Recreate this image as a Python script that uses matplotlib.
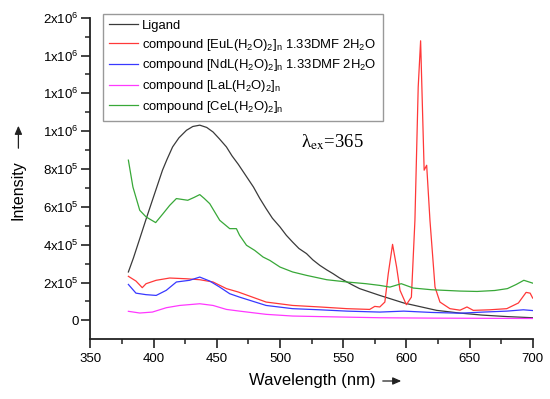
import matplotlib
matplotlib.use("Agg")
import matplotlib.pyplot as plt
from matplotlib.ticker import FixedLocator, FixedFormatter, MultipleLocator

plt.rcParams['font.family'] = ['Liberation Sans', 'DejaVu Sans']
plt.rcParams['mathtext.fontset'] = 'custom'
plt.rcParams['mathtext.rm'] = 'Liberation Sans'
plt.rcParams['mathtext.it'] = 'Liberation Sans'
plt.rcParams['mathtext.bf'] = 'Liberation Sans:bold'

# ---------------- data ----------------
ligand_wl = [380, 384, 389, 394, 399, 407, 410.5, 415, 420, 426, 431, 436.5, 442, 447, 452, 457.6, 462,
             467, 473, 479, 484, 489, 494, 500, 505, 510, 515, 521, 526, 531.5, 537, 542, 547, 553,
             558, 563, 571, 579, 598, 624, 642, 660, 680, 700]
ligand_I = [2.56e5, 3.3e5, 4.32e5, 5.35e5, 6.35e5, 7.94e5, 8.5e5, 9.17e5, 9.65e5, 1.005e6, 1.025e6,
            1.032e6, 1.02e6, 9.96e5, 9.6e5, 9.17e5, 8.7e5, 8.25e5, 7.65e5, 7.05e5, 6.45e5, 5.91e5,
            5.4e5, 4.94e5, 4.5e5, 4.14e5, 3.8e5, 3.53e5, 3.2e5, 2.91e5, 2.67e5, 2.47e5, 2.25e5,
            2.03e5, 1.85e5, 1.68e5, 1.5e5, 1.32e5, 9.2e4, 5.3e4, 3.9e4, 2.8e4, 2.0e4, 1.4e4]

eu_wl = [380, 386, 391, 394, 402, 412.7, 426, 436.5, 447, 457.6, 467, 489, 510, 531.5, 553, 571, 575,
         579, 583, 585.7, 589.1, 592.3, 595, 600, 604, 606.8, 609.4, 611.3, 614.1, 616.1, 618.7,
         622.7, 626.6, 634.5, 642.5, 648, 653, 666, 679.5, 688.7, 694.8, 698, 700]
eu_I = [2.33e5, 2.08e5, 1.73e5, 1.94e5, 2.12e5, 2.24e5, 2.2e5, 2.15e5, 2.03e5, 1.68e5, 1.5e5, 9.7e4,
        7.9e4, 7.1e4, 6.2e4, 5.8e4, 7.4e4, 7.1e4, 9.7e4, 2.47e5, 4.02e5, 2.82e5, 1.59e5, 8.3e4,
        1.23e5, 5.29e5, 1.234e6, 1.478e6, 7.94e5, 8.2e5, 5.29e5, 1.76e5, 9.7e4, 6.2e4, 5.4e4,
        7.1e4, 5.3e4, 5.6e4, 6.2e4, 9.2e4, 1.48e5, 1.44e5, 1.18e5]

nd_wl = [380, 386, 394, 402, 410, 418, 428.5, 436.5, 444.4, 452.3, 460.2, 468, 489, 510, 531.5, 553,
         579, 598, 620, 642.5, 661, 679.5, 692.6, 700]
nd_I = [1.9e5, 1.44e5, 1.36e5, 1.32e5, 1.59e5, 2.03e5, 2.12e5, 2.29e5, 2.08e5, 1.76e5, 1.41e5, 1.23e5,
        7.9e4, 6.2e4, 5.6e4, 4.9e4, 4.4e4, 4.9e4, 4.2e4, 3.8e4, 4.4e4, 4.9e4, 5.6e4, 5.2e4]

la_wl = [380, 389, 399, 410, 420.6, 436.5, 447, 457.6, 468, 489, 510, 547, 579, 620, 660, 700]
la_I = [4.8e4, 3.9e4, 4.4e4, 6.7e4, 7.9e4, 8.8e4, 7.9e4, 5.8e4, 4.9e4, 3.2e4, 2.3e4, 1.8e4, 1.4e4,
        1.2e4, 1.1e4, 1.0e4]

ce_wl = [380, 383.6, 389, 394, 401.6, 407.4, 412.7, 418, 422, 427, 432, 436.5, 440, 444.4, 452.3,
         460.2, 465.5, 468, 473.5, 480, 486.6, 492, 500, 510, 521, 537, 553, 568, 579, 587, 596,
         605.5, 620, 642.5, 656, 670, 680, 687, 693, 700]
ce_I = [8.47e5, 7.05e5, 5.82e5, 5.47e5, 5.17e5, 5.64e5, 6.08e5, 6.44e5, 6.4e5, 6.35e5, 6.5e5, 6.65e5,
        6.45e5, 6.17e5, 5.29e5, 4.85e5, 4.85e5, 4.5e5, 3.97e5, 3.7e5, 3.35e5, 3.17e5, 2.82e5, 2.56e5,
        2.38e5, 2.15e5, 2.03e5, 1.94e5, 1.85e5, 1.76e5, 1.94e5, 1.71e5, 1.62e5, 1.55e5, 1.53e5,
        1.58e5, 1.68e5, 1.9e5, 2.12e5, 1.97e5]

labels = [
    "Ligand",
    r"compound [EuL(H$_2$O)$_2$]$_n$ 1.33DMF 2H$_2$O",
    r"compound [NdL(H$_2$O)$_2$]$_n$ 1.33DMF 2H$_2$O",
    r"compound [LaL(H$_2$O)$_2$]$_n$",
    r"compound [CeL(H$_2$O)$_2$]$_n$",
]
colors = ["#3a3a3a", "#ff3838", "#3838ff", "#ff38ff", "#38a838"]

ytick_vals = [0, 2e5, 4e5, 6e5, 8e5, 1.0e6, 1.2e6, 1.4e6, 1.6e6]
ytick_text = ["0", r"2x10$^5$", r"4x10$^5$", r"6x10$^5$", r"8x10$^5$",
              r"1x10$^6$", r"1x10$^6$", r"1x10$^6$", r"2x10$^6$"]
xtick_vals = [350, 400, 450, 500, 550, 600, 650, 700]

# ---------------- figure ----------------
fig = plt.figure(figsize=(5.5, 3.99), dpi=100)
ax = fig.add_axes([0.1645, 0.1496, 0.804, 0.806])

series = [(ligand_wl, ligand_I), (eu_wl, eu_I), (nd_wl, nd_I), (la_wl, la_I), (ce_wl, ce_I)]
for (x, y), lab, c in zip(series, labels, colors):
    ax.plot(x, y, color=c, lw=0.9, label=lab)

ax.set_xlim(350, 700)
ax.set_ylim(-1.0e5, 1.6e6)

ax.xaxis.set_major_locator(FixedLocator(xtick_vals))
ax.xaxis.set_minor_locator(MultipleLocator(25))
ax.yaxis.set_major_locator(FixedLocator(ytick_vals))
ax.yaxis.set_major_formatter(FixedFormatter(ytick_text))
ax.yaxis.set_minor_locator(FixedLocator([1e5, 3e5, 5e5, 7e5, 9e5, 1.1e6, 1.3e6, 1.5e6]))

for s in ['top', 'right']:
    ax.spines[s].set_visible(False)
for s in ['left', 'bottom']:
    ax.spines[s].set_linewidth(1.3)
    ax.spines[s].set_color('#222222')

ax.tick_params(axis='both', which='major', direction='out', length=6.5, width=1.2,
               labelsize=9.5, color='#222222', pad=2)
ax.tick_params(axis='both', which='minor', direction='out', length=3.5, width=1.1, color='#222222')
ax.tick_params(axis='x', which='major', pad=3)

leg = ax.legend(loc='upper left', bbox_to_anchor=(0.0283, 1.0115), borderaxespad=0,
                fontsize=9.4, frameon=True, fancybox=False, handlelength=2.2,
                handletextpad=0.35, borderpad=0.45, labelspacing=0.36)
leg.get_frame().set_edgecolor('#808080')
leg.get_frame().set_linewidth(1.0)

# lambda text (upright lambda, serif)
ax.text(517, 9.17e5, "λ$_{\\rm ex}$=365", family='Liberation Serif', fontsize=13.5,
        math_fontfamily='stix', ha='left', va='baseline')

# axis labels with arrows (figure pixel coords -> fractions)
W, H = 550, 399
fig.text(312.5 / W, 1 - 380 / H, "Wavelength (nm)", ha='center', va='center', fontsize=12)
fig.add_artist(matplotlib.patches.FancyArrowPatch((380 / W, 1 - 381 / H), (404 / W, 1 - 381 / H),
               transform=fig.transFigure, arrowstyle='-|>,head_length=5,head_width=2.2',
               color='#222222', lw=0.9, mutation_scale=1))
fig.text(18.4 / W, 1 - 190 / H, "Intensity", ha='center', va='center', fontsize=11.5, rotation=90)
fig.add_artist(matplotlib.patches.FancyArrowPatch((18.4 / W, 1 - 151 / H), (18.4 / W, 1 - 123 / H),
               transform=fig.transFigure, arrowstyle='-|>,head_length=5,head_width=2.2',
               color='#222222', lw=0.9, mutation_scale=1))

fig.savefig("out.png", dpi=100)
